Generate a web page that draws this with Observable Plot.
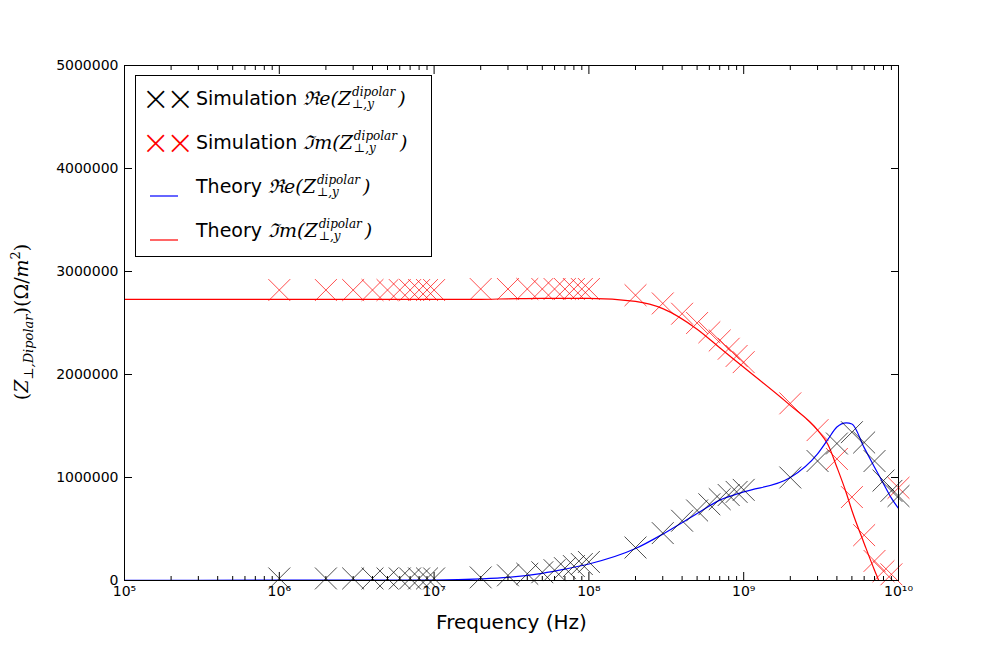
<!DOCTYPE html>
<html><head><meta charset="utf-8">
<script src="https://cdn.jsdelivr.net/npm/d3@7"></script>
<script src="https://cdn.jsdelivr.net/npm/@observablehq/plot@0.6"></script>
<style>
body{margin:0;background:#fff;font-family:"DejaVu Sans",sans-serif}
#wrap{position:relative;width:997px;height:645px}
#legend{position:absolute;left:135px;top:75px;width:295px;height:180px;border:1px solid #000;background:#fff;font-size:19px}
.row{position:absolute;left:0;height:40px;display:flex;align-items:center}
.sym{width:60px;text-align:center;font-size:34px;font-weight:100;letter-spacing:-4px}
.m{font-family:"DejaVu Serif",serif;font-style:italic;margin-left:6px;display:inline-flex;align-items:center}
.ss{display:inline-flex;flex-direction:column;font-size:12px;line-height:12px;margin:0 3px 0 1px}
</style></head>
<body><div id="wrap"><div id="chart"></div>
<div id="legend"></div></div>
<script>
const simFreq = [1e6,2e6,3e6,4e6,5e6,6e6,7e6,8e6,9e6,1e7,2e7,3e7,4e7,5e7,6e7,7e7,8e7,9e7,1e8,
  2e8,3e8,4e8,5e8,6e8,7e8,8e8,9e8,1e9,2e9,3e9,4e9,5e9,6e9,7e9,8e9,9e9,1e10];
const simRe = [0.02,0.02,0.02,0.02,0.02,0.02,0.02,0.02,0.02,0.02,0.03,0.05,0.065,0.08,0.1,0.12,0.14,0.16,0.18,
  0.32,0.46,0.58,0.68,0.74,0.79,0.83,0.86,0.88,1.0,1.16,1.33,1.44,1.34,1.16,0.97,0.87,0.82].map(v=>v*1e6);
const simIm = [2.82,2.82,2.82,2.82,2.82,2.82,2.82,2.82,2.82,2.82,2.83,2.83,2.83,2.83,2.83,2.83,2.83,2.83,2.83,
  2.77,2.69,2.59,2.5,2.41,2.33,2.25,2.18,2.12,1.72,1.46,1.18,0.81,0.44,0.19,0.09,0.06,0.9].map(v=>v*1e6);
const thFreq = [1e5,1e6,1e7,2e7,3e7,5e7,7e7,1e8,2e8,3e8,5e8,7e8,1e9,2e9,3e9,3.5e9,4e9,4.6e9,5e9,6e9,7e9,8e9,9e9,1e10];
const thRe = [0.002,0.003,0.005,0.015,0.03,0.07,0.11,0.16,0.31,0.45,0.65,0.78,0.86,1.0,1.23,1.37,1.49,1.53,1.52,1.29,1.1,0.94,0.8,0.7].map(v=>v*1e6);
const thIm = [2.73,2.73,2.73,2.73,2.735,2.74,2.74,2.74,2.71,2.64,2.44,2.26,2.07,1.7,1.46,1.32,1.1,0.85,0.68,0.36,0.1,-0.1,-0.2,-0.25].map(v=>v*1e6);
const yTicks = [0,1e6,2e6,3e6,4e6,5e6];
const xTicks = [1e5,1e6,1e7,1e8,1e9,1e10];
const minor = d3.range(5,10).flatMap(e => d3.range(2,10).map(k => k*10**e));
const legendItems = [
  {kind: "x", color: "black", name: "Simulation", part: "ℜe"},
  {kind: "x", color: "red", name: "Simulation", part: "ℑm"},
  {kind: "l", color: "blue", name: "Theory", part: "ℜe"},
  {kind: "l", color: "red", name: "Theory", part: "ℑm"}
];

const sim = simFreq.map((f,i)=>({f, re: simRe[i], im: simIm[i]}));
const th = thFreq.map((f,i)=>({f, re: thRe[i], im: thIm[i]}));
const sup = {"0":"⁰","1":"¹","2":"²","3":"³","4":"⁴","5":"⁵","6":"⁶","7":"⁷","8":"⁸","9":"⁹"};
const fmtX = d => "10" + String(Math.round(Math.log10(d))).split("").map(c=>sup[c]).join("");
const blank = () => "";

const chart = Plot.plot({
  width: 997, height: 645,
  marginLeft: 124, marginRight: 99, marginTop: 65, marginBottom: 65,
  style: {fontFamily: "DejaVu Sans", fontSize: "14px", color: "#000"},
  x: {type: "log", domain: [1e5,1e10]},
  y: {domain: [0,5e6]},
  marks: [
    Plot.line(th, {x: "f", y: "im", stroke: "red", curve: "monotone-x", strokeWidth: 1.2, clip: true}),
    Plot.line(th, {x: "f", y: "re", stroke: "blue", curve: "monotone-x", strokeWidth: 1.2, clip: true}),
    Plot.dot(sim, {x: "f", y: "im", symbol: "times", r: 10, stroke: "red", strokeWidth: 0.7}),
    Plot.dot(sim, {x: "f", y: "re", symbol: "times", r: 10, stroke: "black", strokeWidth: 0.7}),
    Plot.frame({stroke: "black"}),
    Plot.axisX({ticks: xTicks, tickFormat: fmtX, tickSize: -8, tickPadding: 14, label: "Frequency (Hz)", labelAnchor: "center", labelArrow: "none", labelOffset: 48, fontSize: 14}),
    Plot.axisX({anchor: "top", ticks: xTicks, tickFormat: blank, tickSize: -8, label: null}),
    Plot.axisX({ticks: minor, tickFormat: blank, tickSize: -4, label: null}),
    Plot.axisX({anchor: "top", ticks: minor, tickFormat: blank, tickSize: -4, label: null}),
    Plot.axisY({ticks: yTicks, tickFormat: d3.format("d"), tickSize: -8, tickPadding: 14, label: null}),
    Plot.axisY({anchor: "right", ticks: yTicks, tickFormat: blank, tickSize: -8, label: null})
  ]
});
d3.select("#chart").append(() => chart);
const s = d3.select(chart);
s.selectAll("g[aria-label='x-axis label'] text").style("font-size","20px");
s.append("text").attr("transform","translate(28,322) rotate(-90)").attr("text-anchor","middle")
  .style("font-family","DejaVu Serif").style("font-size","19px")
  .html('(<tspan font-style="italic">Z</tspan><tspan font-size="13" dy="5" font-style="italic">⊥,Dipolar</tspan><tspan dy="-5">)(Ω/</tspan><tspan font-style="italic">m</tspan><tspan font-size="13" dy="-8">2</tspan><tspan dy="8">)</tspan>');

d3.select("#legend").selectAll(".row").data(legendItems).join("div")
  .attr("class","row").style("top",(d,i)=>(2+i*44)+"px")
  .html(d => (d.kind === "x"
      ? `<span class="sym" style="color:${d.color}">××</span>`
      : `<span class="sym"><svg width="40" height="4"><line x1="4" x2="32" y1="2" y2="2" stroke="${d.color}" stroke-width="1.2"/></svg></span>`)
    + `<span>${d.name}</span><span class="m">${d.part}(Z<span class="ss"><span>dipolar</span><span>⊥,y</span></span>)</span>`);
</script></body></html>
